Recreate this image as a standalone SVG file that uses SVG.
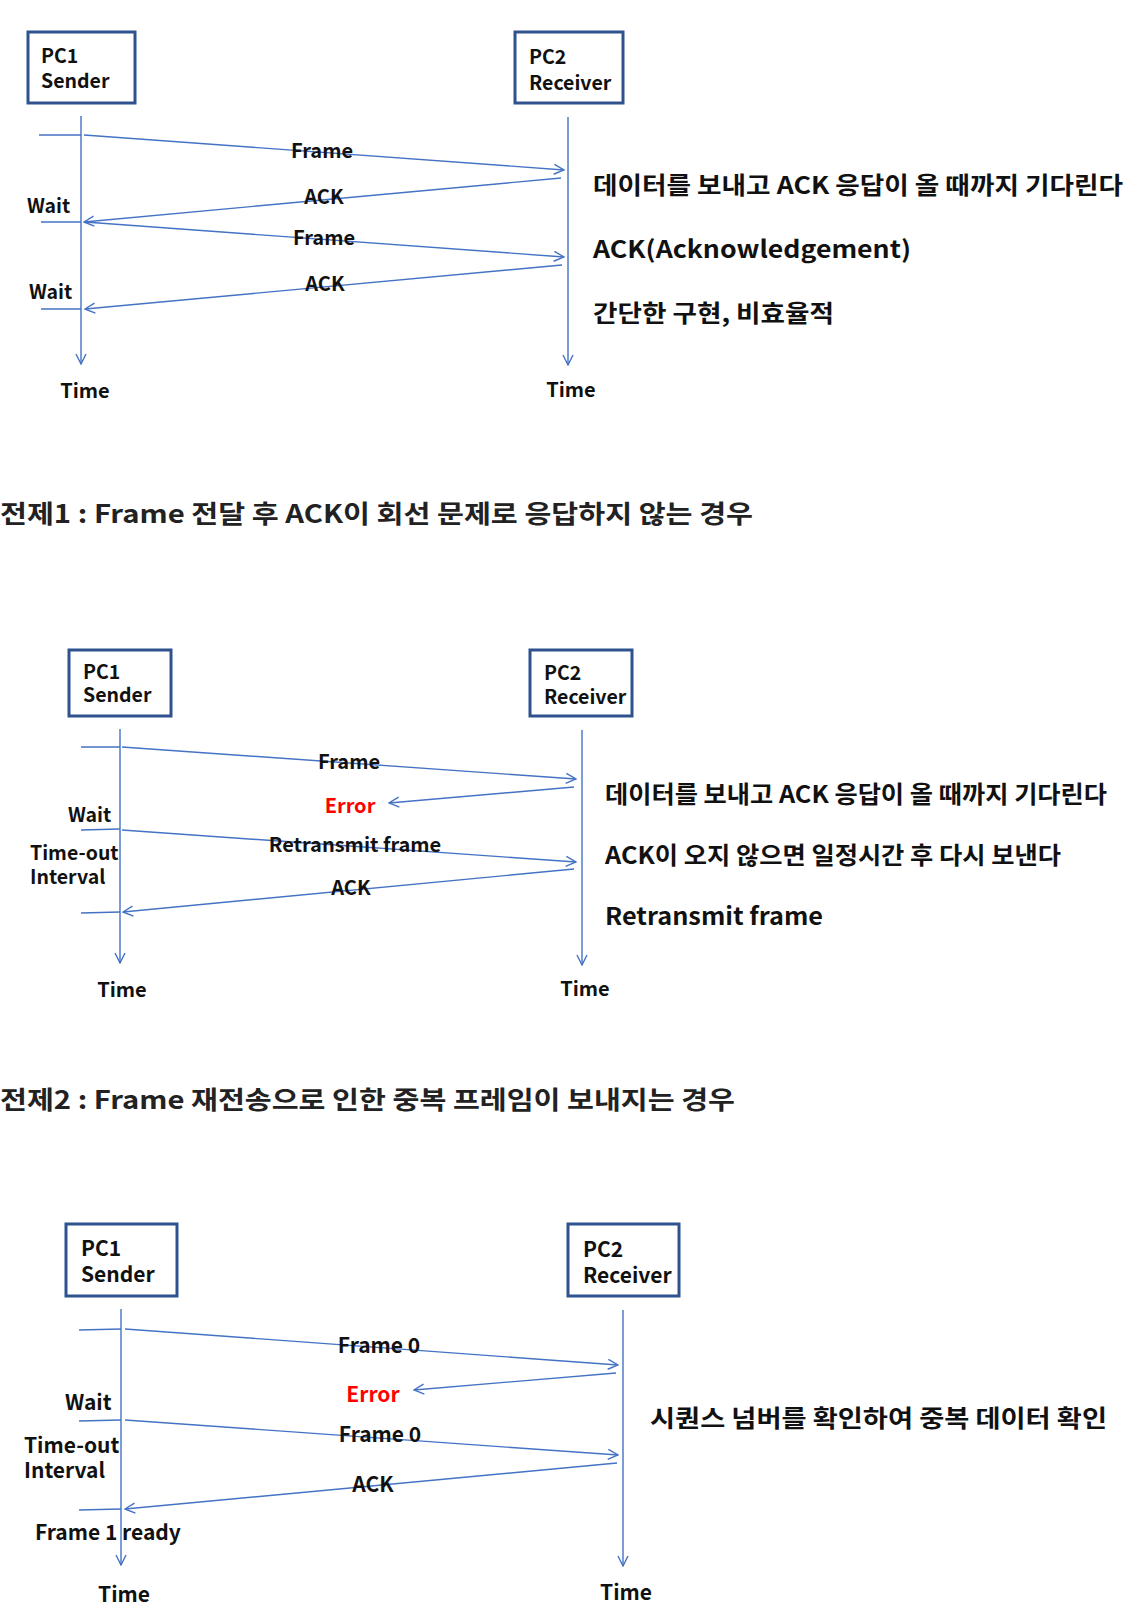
<svg xmlns="http://www.w3.org/2000/svg" width="1126" height="1623" viewBox="0 0 1126 1623">
<style>
text{font-family:"Noto Sans CJK KR","Noto Sans",sans-serif;font-weight:bold;fill:#111}
.box{fill:#fff;stroke:#2F528F;stroke-width:3}
.ln{stroke:#4472C4;stroke-width:1.4;fill:none}
.lbl{font-size:20px;text-anchor:middle}
.sm{font-size:19.5px}
.md{font-size:21px}
.big{font-size:24px}
.title{font-size:25px;fill:#222}
.err{fill:#FF0000}
</style>
<defs>
<marker id="ah" viewBox="0 0 12 12" refX="11" refY="6" markerWidth="12" markerHeight="12" markerUnits="userSpaceOnUse" orient="auto">
<path d="M1,1 L11,6 L1,11" fill="none" stroke="#4472C4" stroke-width="1.4"/>
</marker>
</defs>
<rect width="1126" height="1623" fill="#fff"/>

<!-- Section 1 -->
<g id="s1-pc1"><rect class="box" x="28" y="32" width="107" height="71"/><text class="sm" x="41" y="63">PC1</text><text class="sm" x="41" y="88">Sender</text></g>
<g id="s1-pc2"><rect class="box" x="515" y="32" width="108" height="71"/><text class="sm" x="529" y="64">PC2</text><text class="sm" x="529" y="90">Receiver</text></g>
<g id="s1-connectors">
<line class="ln" x1="81" y1="116" x2="81" y2="364" marker-end="url(#ah)"/>
<line class="ln" x1="568" y1="117" x2="568" y2="365" marker-end="url(#ah)"/>
<line class="ln" x1="39" y1="135" x2="81" y2="135"/>
<line class="ln" x1="84" y1="135" x2="564" y2="170" marker-end="url(#ah)"/>
<line class="ln" x1="561" y1="178" x2="84" y2="222" marker-end="url(#ah)"/>
<line class="ln" x1="41" y1="222" x2="81" y2="222"/>
<line class="ln" x1="85" y1="222" x2="564" y2="257" marker-end="url(#ah)"/>
<line class="ln" x1="562" y1="265" x2="85" y2="309" marker-end="url(#ah)"/>
<line class="ln" x1="41" y1="309" x2="81" y2="309"/>
</g>
<g id="s1-labels">
<text class="lbl" x="322" y="158">Frame</text>
<text class="lbl" x="324" y="204">ACK</text>
<text class="lbl" x="324" y="245">Frame</text>
<text class="lbl" x="325" y="291">ACK</text>
<text class="sm" x="27" y="213">Wait</text>
<text class="sm" x="29" y="299">Wait</text>
<text class="lbl" x="85" y="398">Time</text>
<text class="lbl" x="571" y="397">Time</text>
<text class="big" x="593" y="194" textLength="530" lengthAdjust="spacingAndGlyphs">데이터를 보내고 ACK 응답이 올 때까지 기다린다</text>
<text class="big" x="593" y="258" textLength="318" lengthAdjust="spacingAndGlyphs">ACK(Acknowledgement)</text>
<text class="big" x="593" y="322" textLength="241" lengthAdjust="spacingAndGlyphs">간단한 구현, 비효율적</text>
</g>

<text class="title" x="0" y="523" textLength="753" lengthAdjust="spacingAndGlyphs">전제1 : Frame 전달 후 ACK이 회선 문제로 응답하지 않는 경우</text>

<!-- Section 2 -->
<g id="s2-pc1"><rect class="box" x="69" y="650" width="102" height="66"/><text class="sm" x="83" y="679">PC1</text><text class="sm" x="83" y="702">Sender</text></g>
<g id="s2-pc2"><rect class="box" x="530" y="650" width="102" height="66"/><text class="sm" x="544" y="680">PC2</text><text class="sm" x="544" y="704">Receiver</text></g>
<g id="s2-connectors">
<line class="ln" x1="120" y1="729" x2="120" y2="963" marker-end="url(#ah)"/>
<line class="ln" x1="582" y1="730" x2="582" y2="965" marker-end="url(#ah)"/>
<line class="ln" x1="81" y1="747" x2="120" y2="747"/>
<line class="ln" x1="122" y1="747" x2="576" y2="779" marker-end="url(#ah)"/>
<line class="ln" x1="574" y1="787" x2="389" y2="803" marker-end="url(#ah)"/>
<line class="ln" x1="81" y1="830" x2="120" y2="829"/>
<line class="ln" x1="122" y1="830" x2="576" y2="862" marker-end="url(#ah)"/>
<line class="ln" x1="574" y1="869" x2="123" y2="912" marker-end="url(#ah)"/>
<line class="ln" x1="81" y1="913" x2="120" y2="912"/>
</g>
<g id="s2-labels">
<text class="lbl" x="349" y="769">Frame</text>
<text class="lbl err" x="350" y="813">Error</text>
<text class="lbl" x="355" y="852">Retransmit frame</text>
<text class="lbl" x="351" y="895">ACK</text>
<text class="sm" x="68" y="822">Wait</text>
<text class="sm" x="30" y="860">Time-out</text>
<text class="sm" x="30" y="884">Interval</text>
<text class="lbl" x="122" y="997">Time</text>
<text class="lbl" x="585" y="996">Time</text>
<text class="big" x="605" y="803" textLength="502" lengthAdjust="spacingAndGlyphs">데이터를 보내고 ACK 응답이 올 때까지 기다린다</text>
<text class="big" x="605" y="864" textLength="456" lengthAdjust="spacingAndGlyphs">ACK이 오지 않으면 일정시간 후 다시 보낸다</text>
<text class="big" x="605" y="925" textLength="218" lengthAdjust="spacingAndGlyphs">Retransmit frame</text>
</g>

<text class="title" x="0" y="1109" textLength="735" lengthAdjust="spacingAndGlyphs">전제2 : Frame 재전송으로 인한 중복 프레임이 보내지는 경우</text>

<!-- Section 3 -->
<g id="s3-pc1"><rect class="box" x="66" y="1224" width="111" height="72"/><text class="md" x="81" y="1256">PC1</text><text class="md" x="81" y="1282">Sender</text></g>
<g id="s3-pc2"><rect class="box" x="568" y="1224" width="111" height="72"/><text class="md" x="583" y="1257">PC2</text><text class="md" x="583" y="1283">Receiver</text></g>
<g id="s3-connectors">
<line class="ln" x1="121" y1="1309" x2="121" y2="1565" marker-end="url(#ah)"/>
<line class="ln" x1="623" y1="1310" x2="623" y2="1566" marker-end="url(#ah)"/>
<line class="ln" x1="79" y1="1330" x2="121" y2="1329"/>
<line class="ln" x1="125" y1="1329" x2="618" y2="1365" marker-end="url(#ah)"/>
<line class="ln" x1="616" y1="1373" x2="414" y2="1390" marker-end="url(#ah)"/>
<line class="ln" x1="79" y1="1421" x2="121" y2="1420"/>
<line class="ln" x1="125" y1="1420" x2="618" y2="1455" marker-end="url(#ah)"/>
<line class="ln" x1="617" y1="1463" x2="125" y2="1509" marker-end="url(#ah)"/>
<line class="ln" x1="79" y1="1510" x2="121" y2="1509"/>
</g>
<g id="s3-labels">
<text class="lbl md" x="379" y="1353">Frame 0</text>
<text class="lbl md err" x="373" y="1402">Error</text>
<text class="lbl md" x="380" y="1442">Frame 0</text>
<text class="lbl md" x="373" y="1492">ACK</text>
<text class="md" x="65" y="1410">Wait</text>
<text class="md" x="24" y="1453">Time-out</text>
<text class="md" x="24" y="1478">Interval</text>
<text class="md" x="35" y="1540">Frame 1 ready</text>
<text class="lbl md" x="124" y="1602">Time</text>
<text class="lbl md" x="626" y="1600">Time</text>
<text class="big" x="650" y="1427" textLength="457" lengthAdjust="spacingAndGlyphs">시퀀스 넘버를 확인하여 중복 데이터 확인</text>
</g>
</svg>
